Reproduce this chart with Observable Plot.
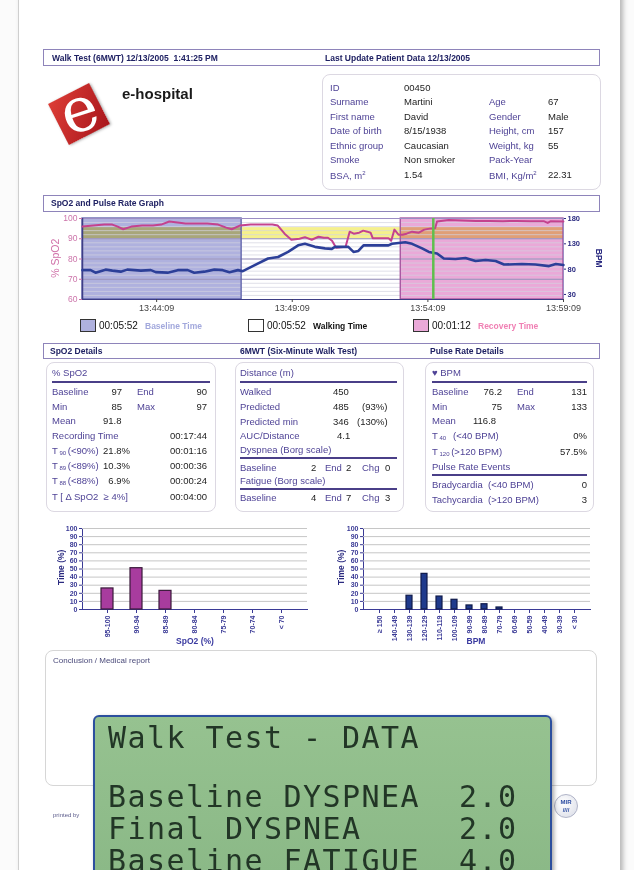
<!DOCTYPE html>
<html><head><meta charset="utf-8">
<script src="https://cdn.jsdelivr.net/npm/d3@7"></script>
<script src="https://cdn.jsdelivr.net/npm/@observablehq/plot@0.6"></script>
<style>
html,body{margin:0;padding:0}
body{width:634px;height:870px;overflow:hidden;position:relative;background:#fbfbfb;font-family:"Liberation Sans",Arial,Helvetica,sans-serif;}
.a{position:absolute;white-space:nowrap;line-height:1}
.box{position:absolute;box-sizing:border-box}
.bar{position:absolute;box-sizing:border-box;border:1.5px solid #8e84ba;background:#fff}
.rbox{position:absolute;box-sizing:border-box;border:1.5px solid #dcd8e2;border-radius:8px;background:#fff}
sub{font-size:6px;vertical-align:-1px}
svg{display:block}
</style></head><body>
<div class="box" style="left:18px;top:-10px;width:602px;height:900px;background:#fff;border-left:1px solid #cfcfcf;box-shadow:3px 0 5px rgba(0,0,0,0.28)"></div>
<script>
// ---------------- DATA ----------------
// time in minutes since 13:41:25 (start of recording)
const spo2Series = [[0,96],[0.4,96.5],[0.8,97],[1.1,97],[1.3,96],[1.5,94.7],[1.8,96],[2.2,96.5],[2.6,96.5],[2.9,97],[3.2,98.5],[3.5,98],[3.8,97.5],[4.2,97.5],[4.6,97.5],[5.0,97],[5.3,95.5],[5.5,94.7],[5.8,96.5],[6.2,97],[6.6,97],[7.0,97],[7.2,96.5],[7.45,92.5],[7.7,89.5],[8.0,90],[8.2,90.8],[8.45,89.5],[8.7,91],[8.9,90.5],[9.05,90.5],[9.2,89],[9.35,85.5],[9.7,86],[9.85,93.5],[10.0,92.5],[10.2,93],[10.35,94],[10.5,93.5],[10.62,93],[10.7,90.3],[11.0,90.3],[11.28,90.3],[11.38,89],[11.5,94.5],[11.65,92],[11.8,92],[11.95,92.5],[12.15,93.5],[12.4,93],[12.6,94.5],[12.8,95],[13.0,95.2],[13.07,98.5],[13.5,99.3],[14.0,99],[14.5,98.8],[15.0,98.8],[15.5,98.7],[16.0,98.8],[16.5,98.7],[17.0,98.7],[17.15,97.8],[17.25,98.6],[17.73,98.5]];
const pulseSeries = [[0,78],[0.3,78],[0.48,73],[0.85,79],[1.1,77],[1.41,75],[1.65,79],[1.9,78],[2.15,77],[2.52,78],[2.7,74],[3.14,73],[3.51,78],[3.88,78],[4.12,73],[4.49,75],[4.86,79],[5.17,78],[5.42,74],[5.73,78],[5.91,76],[6.35,88],[6.84,101],[7.21,104],[7.58,114],[7.95,127],[8.2,130],[8.57,124],[8.94,121],[9.19,120],[9.31,124],[9.8,124],[9.99,114],[10.17,116],[10.36,127],[10.67,127],[11.28,127],[11.41,130],[11.9,133],[12.15,130],[12.52,121],[12.77,114],[13.07,111],[13.32,101],[13.75,100],[14.12,102],[14.49,96],[14.86,98],[15.23,96],[15.54,89],[16.2,90],[16.7,89],[17.2,86],[17.45,90],[17.73,88]];
const phaseNames = ["Baseline","Walking","Recovery"];
const phaseStart = [0, 5.867, 11.733];
const phaseEnd = [5.867, 11.733, 17.733];
const phaseDurations = ["00:05:52","00:05:52","00:01:12"];
const recoveryMark = 12.933;
const timeTicks = [2.733, 7.733, 12.733, 17.733];
const timeLabels = ["13:44:09","13:49:09","13:54:09","13:59:09"];
const spo2Ticks = [60,70,80,90,100];
const bpmTicks = [30,80,130,180];

const spo2Bins = ["95-100","90-94","85-89","80-84","75-79","70-74","< 70"];
const spo2BinTime = [26,51,23,0,0,0,0];
const bpmBins = ["≥ 150","140-149","130-139","120-129","110-119","100-109","90-99","80-89","70-79","60-69","50-59","40-49","30-39","< 30"];
const bpmBinTime = [0,0,17,44,16,12,5,6.5,2.5,0,0,0,0,0];

const patientLabels1 = ["ID","Surname","First name","Date of birth","Ethnic group","Smoke","BSA, m<sup style='font-size:6px'>2</sup>"];
const patientValues1 = ["00450","Martini","David","8/15/1938","Caucasian","Non smoker","1.54"];
const patientLabels2 = ["","Age","Gender","Height, cm","Weight, kg","Pack-Year","BMI, Kg/m<sup style='font-size:6px'>2</sup>"];
const patientValues2 = ["","67","Male","157","55","","22.31"];

const lcdLines = ["Walk Test - DATA","","Baseline DYSPNEA  2.0","Final DYSPNEA     2.0","Baseline FATIGUE  4.0"];

// ---------------- HELPERS ----------------
const P = document.body;
const LAB = "#4f4396", VAL = "#1d1d1d", NAVY = "#1f2163";
function T(x, y, html, o = {}) {
  const d = document.createElement("div");
  d.className = "a";
  const s = o.size || 9.5;
  d.style.fontSize = s + "px";
  d.style.top = (y - s / 2) + "px";
  if (o.align === "right") d.style.right = (634 - x) + "px";
  else if (o.align === "center") { d.style.left = x + "px"; d.style.transform = "translateX(-50%)"; }
  else d.style.left = x + "px";
  if (o.color) d.style.color = o.color;
  if (o.bold) d.style.fontWeight = "bold";
  if (o.family) d.style.fontFamily = o.family;
  if (o.rot) { d.style.left = x + "px"; d.style.transform = `translateX(-50%) rotate(${o.rot}deg)`; }
  if (o.css) d.style.cssText += o.css;
  d.innerHTML = html;
  P.appendChild(d);
  return d;
}
function R(x, y, w, h, cls, css = "") {
  const d = document.createElement("div");
  d.className = cls;
  d.style.cssText = `left:${x}px;top:${y}px;width:${w}px;height:${h}px;` + css;
  P.appendChild(d);
  return d;
}
function place(svg, x, y) {
  const w = document.createElement("div");
  w.style.cssText = `position:absolute;left:${x}px;top:${y}px;`;
  w.appendChild(svg);
  P.appendChild(w);
}

// ---------------- HEADER ----------------
R(43, 49, 557, 17, "bar");
T(52, 58, "Walk Test (6MWT) 12/13/2005&nbsp;&nbsp;1:41:25 PM", {size: 8.5, bold: true, color: NAVY});
T(325, 58, "Last Update Patient Data 12/13/2005", {size: 8.5, bold: true, color: NAVY});

// logo
R(56, 91, 46, 46, "box", "background:linear-gradient(135deg,#dc3d36,#a8161c);transform:rotate(-27deg);box-shadow:1px 1px 3px rgba(0,0,0,.35)");
T(79, 114, "e", {size: 62, color: "#fff", family: '"DejaVu Serif",serif', css: "top:79px;transform:translateX(-50%) rotate(-18deg)", align: "center"});
T(122, 93, "e-hospital", {size: 15, bold: true, color: "#1a1a1a"});

// patient box
R(322, 74, 279, 116, "rbox");
const rowY = [88, 102, 117, 131, 146, 160, 175];
rowY.forEach((y, i) => {
  T(330, y, patientLabels1[i], {color: LAB});
  T(404, y, patientValues1[i], {color: VAL});
  if (patientLabels2[i]) T(489, y, patientLabels2[i], {color: LAB});
  if (patientValues2[i]) T(548, y, patientValues2[i], {color: VAL});
});

// ---------------- MAIN GRAPH ----------------
R(43, 195, 557, 17, "bar");
T(51, 203.5, "SpO2 and Pulse Rate Graph", {size: 8.5, bold: true, color: NAVY});

const bpmToY = b => 60 + (b - 20) / 4;
const phases = phaseNames.map((name, i) => ({name, start: phaseStart[i], end: phaseEnd[i]}));
const mainChart = Plot.plot({
  width: 570, height: 105, marginLeft: 42, marginRight: 47, marginTop: 6, marginBottom: 18,
  style: {fontFamily: '"Liberation Sans", Arial, sans-serif', fontSize: "9px", background: "transparent", overflow: "visible"},
  x: {domain: [0, 17.733]},
  y: {domain: [60, 100]},
  color: {domain: phaseNames, range: ["#afb1de", "#ffffff", "#eaa9d8"]},
  marks: [
    Plot.rect(phases, {x1: "start", x2: "end", y1: 60, y2: 100, fill: "name"}),
    Plot.rect(phases, {x1: "start", x2: "end", y1: 90, y2: 95.5, fill: "#f5f08c", mixBlendMode: "multiply"}),
    Plot.ruleY(d3.range(62, 100, 2), {stroke: "#d2d2e0", strokeWidth: 0.7}),
    Plot.ruleY([70, 80, 90], {stroke: "#8e86b6", strokeWidth: 0.9}),
    Plot.rect(phases.filter(d => d.name === "Baseline"), {x1: "start", x2: "end", y1: 60, y2: 100, fill: "none", stroke: "#5a5ea8", strokeWidth: 1.3}),
    Plot.rect(phases.filter(d => d.name === "Recovery"), {x1: "start", x2: "end", y1: 60, y2: 100, fill: "none", stroke: "#a2509c", strokeWidth: 1.3}),
    Plot.frame({stroke: "#9b8cc4"}),
    Plot.ruleX([0], {stroke: "#3e3e86", strokeWidth: 1.5}),
    Plot.ruleY([60], {stroke: "#3e3e86", strokeWidth: 1.2}),
    Plot.line(spo2Series, {x: d => d[0], y: d => d[1], stroke: "#c4428e", strokeWidth: 2}),
    Plot.line(pulseSeries, {x: d => d[0], y: d => bpmToY(d[1]), stroke: "#2c3f98", strokeWidth: 2.6}),
    Plot.ruleX([recoveryMark], {stroke: "#5fbf4e", strokeWidth: 2.5}),
    Plot.axisY(spo2Ticks, {anchor: "left", tickSize: 3, tickPadding: 2, color: "#cc74aa", fontSize: 8.5, label: null}),
    Plot.axisY(bpmTicks.map(bpmToY), {anchor: "right", tickSize: 2, tickPadding: 2, tickFormat: v => String(Math.round(20 + (v - 60) * 4)), color: "#2a2a80", fontWeight: "bold", fontSize: 7.5, label: null}),
    Plot.axisX(timeTicks, {anchor: "bottom", tickSize: 3, tickPadding: 2, tickFormat: d => timeLabels[timeTicks.indexOf(d)], color: "#444", fontSize: 9, label: null})
  ]
});
place(mainChart, 40, 212);
T(55, 258, "% SpO2", {size: 10.5, color: "#d070a8", rot: -90});
T(599, 258, "BPM", {size: 8.5, bold: true, color: "#2a2a80", rot: 90});

// legend
const legendX = [80, 248, 413];
const legendFill = ["#afb1de", "#ffffff", "#eaa9d8"];
const legendText = ["Baseline Time", "Walking Time", "Recovery Time"];
const legendColor = ["#a2a8dc", "#111", "#f080b4"];
legendX.forEach((x, i) => {
  R(x, 319, 16, 13, "box", `border:1.5px solid #333;background:${legendFill[i]}`);
  T(x + 19, 326, phaseDurations[i], {size: 10, color: "#111"});
  T(x + 65, 326, legendText[i], {size: 8.5, bold: true, color: legendColor[i]});
});

// ---------------- DETAILS ----------------
R(43, 343, 557, 16, "bar");
T(50, 351, "SpO2 Details", {size: 8.5, bold: true, color: NAVY});
T(240, 351, "6MWT (Six-Minute Walk Test)", {size: 8.5, bold: true, color: NAVY});
T(430, 351, "Pulse Rate Details", {size: 8.5, bold: true, color: NAVY});

R(46, 362, 170, 150, "rbox");
R(235, 362, 169, 150, "rbox");
R(425, 362, 169, 150, "rbox");
const UL = "background:#4a3f88";
R(52, 381, 158, 2, "box", UL);
R(240, 381, 157, 2, "box", UL);
R(432, 381, 155, 2, "box", UL);

// box 1
T(52, 373, "% SpO2", {color: LAB});
T(52, 392, "Baseline", {color: LAB}); T(122, 392, "97", {align: "right", color: VAL}); T(137, 392, "End", {color: LAB}); T(207, 392, "90", {align: "right", color: VAL});
T(52, 407, "Min", {color: LAB}); T(122, 407, "85", {align: "right", color: VAL}); T(137, 407, "Max", {color: LAB}); T(207, 407, "97", {align: "right", color: VAL});
T(52, 421, "Mean", {color: LAB}); T(103, 421, "91.8", {color: VAL});
T(52, 436, "Recording Time", {color: LAB}); T(207, 436, "00:17:44", {align: "right", color: VAL});
const tRows = [["T<sub>&nbsp;90&nbsp;</sub>(&lt;90%)", "21.8%", "00:01:16", 451], ["T<sub>&nbsp;89&nbsp;</sub>(&lt;89%)", "10.3%", "00:00:36", 466], ["T<sub>&nbsp;88&nbsp;</sub>(&lt;88%)", "6.9%", "00:00:24", 481]];
tRows.forEach(r => { T(52, r[3], r[0], {color: LAB}); T(130, r[3], r[1], {align: "right", color: VAL}); T(207, r[3], r[2], {align: "right", color: VAL}); });
T(52, 497, "T [ Δ SpO2 &nbsp;≥ 4%]", {color: LAB}); T(207, 497, "00:04:00", {align: "right", color: VAL});

// box 2
T(240, 373, "Distance (m)", {color: LAB});
T(240, 392, "Walked", {color: LAB}); T(333, 392, "450", {color: VAL});
T(240, 407, "Predicted", {color: LAB}); T(333, 407, "485", {color: VAL}); T(362, 407, "(93%)", {color: VAL});
T(240, 422, "Predicted min", {color: LAB}); T(333, 422, "346", {color: VAL}); T(357, 422, "(130%)", {color: VAL});
T(240, 436, "AUC/Distance", {color: LAB}); T(337, 436, "4.1", {color: VAL});
T(240, 450, "Dyspnea (Borg scale)", {color: LAB});
R(240, 457, 157, 2, "box", UL);
T(240, 468, "Baseline", {color: LAB}); T(311, 468, "2", {color: VAL}); T(325, 468, "End", {color: LAB}); T(346, 468, "2", {color: VAL}); T(362, 468, "Chg", {color: LAB}); T(385, 468, "0", {color: VAL});
T(240, 481, "Fatigue (Borg scale)", {color: LAB});
R(240, 488, 157, 2, "box", UL);
T(240, 498, "Baseline", {color: LAB}); T(311, 498, "4", {color: VAL}); T(325, 498, "End", {color: LAB}); T(346, 498, "7", {color: VAL}); T(362, 498, "Chg", {color: LAB}); T(385, 498, "3", {color: VAL});

// box 3
T(432, 373, "♥ BPM", {color: LAB});
T(432, 392, "Baseline", {color: LAB}); T(502, 392, "76.2", {align: "right", color: VAL}); T(517, 392, "End", {color: LAB}); T(587, 392, "131", {align: "right", color: VAL});
T(432, 407, "Min", {color: LAB}); T(502, 407, "75", {align: "right", color: VAL}); T(517, 407, "Max", {color: LAB}); T(587, 407, "133", {align: "right", color: VAL});
T(432, 421, "Mean", {color: LAB}); T(473, 421, "116.8", {color: VAL});
T(432, 436, "T<sub>&nbsp;40&nbsp;</sub>&nbsp;&nbsp;(&lt;40 BPM)", {color: LAB}); T(587, 436, "0%", {align: "right", color: VAL});
T(432, 452, "T<sub>&nbsp;120&nbsp;</sub>(&gt;120 BPM)", {color: LAB}); T(587, 452, "57.5%", {align: "right", color: VAL});
T(432, 467, "Pulse Rate Events", {color: LAB});
R(432, 474, 155, 2, "box", UL);
T(432, 485, "Bradycardia&nbsp;&nbsp;(&lt;40 BPM)", {color: LAB}); T(587, 485, "0", {align: "right", color: VAL});
T(432, 500, "Tachycardia&nbsp;&nbsp;(&gt;120 BPM)", {color: LAB}); T(587, 500, "3", {align: "right", color: VAL});

// ---------------- HISTOGRAMS ----------------
function histo(cats, vals, fill, stroke, width, mL, mR) {
  const rows = cats.map((c, i) => ({c, v: vals[i]})).filter(d => d.v > 0);
  return Plot.plot({
    width, height: 128, marginLeft: mL, marginRight: mR, marginTop: 8, marginBottom: 39,
    style: {fontFamily: '"Liberation Sans", Arial, sans-serif', fontSize: "7px", fontWeight: "bold", color: "#3a3a96", background: "transparent", overflow: "visible"},
    x: {domain: cats, padding: 0.58, label: null, tickRotate: -90, tickSize: 4, tickPadding: 2, line: true},
    y: {domain: [0, 100], ticks: d3.range(0, 101, 10), label: null, tickSize: 3, tickPadding: 2, line: true},
    marks: [
      Plot.ruleY(d3.range(10, 101, 10), {stroke: "#c6c6c6", strokeWidth: 1}),
      Plot.barY(rows, {x: "c", y: "v", fill, stroke, strokeWidth: 1.2})
    ]
  });
}
place(histo(spo2Bins, spo2BinTime, "#a83c9e", "#3a1a3a", 280, 42, 13), 40, 520);
place(histo(bpmBins, bpmBinTime, "#1f3a8c", "#0f1a4a", 290, 43, 20), 320, 520);
T(61, 567, "Time (%)", {size: 8.5, bold: true, color: "#2b2b80", rot: -90});
T(341, 567, "Time (%)", {size: 8.5, bold: true, color: "#2b2b80", rot: -90});
T(195, 641, "SpO2 (%)", {size: 8.5, bold: true, color: "#3a3aa0", align: "center"});
T(476, 641, "BPM", {size: 8.5, bold: true, color: "#3a3aa0", align: "center"});

// ---------------- CONCLUSION ----------------
R(45, 650, 552, 136, "rbox", "border-color:#d6d6d6");
T(53, 661, "Conclusion / Medical report", {size: 8, color: "#4a4a7a"});
T(53, 815, "printed by", {size: 6, color: "#5a5a8a"});
R(554, 794, 24, 24, "box", "border-radius:50%;border:1px solid #b0b4c8;background:radial-gradient(circle at 40% 35%,#ffffff,#d8dbe6);");
T(566, 802, "MIR", {size: 6, bold: true, color: "#2a4aa0", align: "center"});
T(566, 810, "////", {size: 6, bold: true, color: "#2a4aa0", align: "center"});

// ---------------- LCD ----------------
R(93, 715, 459, 175, "box", "border:2px solid #2c4f9e;border-radius:6px;background:linear-gradient(#96c290,#8ab886);box-shadow:2px 2px 4px rgba(0,0,0,.35)");
const lcdBase = [748, 0, 807, 839, 871];
lcdLines.forEach((s, i) => {
  if (!s) return;
  const d = document.createElement("div");
  d.className = "a";
  d.style.cssText = `left:108px;top:${lcdBase[i] - 25.4}px;font-family:"DejaVu Sans Mono",monospace;font-size:30px;letter-spacing:1.44px;color:#223626;white-space:pre;`;
  d.textContent = s;
  P.appendChild(d);
});
</script>
</body></html>
